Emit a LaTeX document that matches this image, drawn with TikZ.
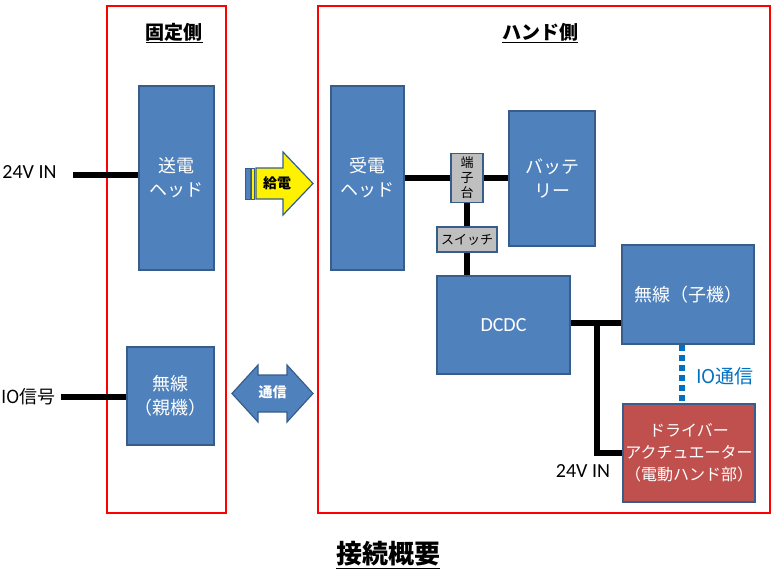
\documentclass[tikz,border=0pt]{standalone}
\usepackage{fontspec}
\setmainfont{Noto Sans CJK JP}
\newfontfamily\latinfont{Carlito}
\usepackage{xcolor}
\definecolor{boxblue}{HTML}{4F81BD}
\definecolor{edgeblue}{HTML}{385D8A}
\definecolor{boxred}{HTML}{C0504D}
\definecolor{partgray}{HTML}{BFBFBF}
\definecolor{linkblue}{HTML}{0070C0}
\usetikzlibrary{positioning,calc}

\begin{document}
\begin{tikzpicture}[
  x=1pt,y=-1pt,
  frame/.style={draw=red,line width=1.5pt},
  blk/.style={draw=edgeblue,line width=2pt,fill=boxblue,text=white,align=center,font=\fontsize{18}{24}\selectfont},
  drvbox/.style={draw=edgeblue,line width=2pt,fill=boxred,text=white,align=center,inner sep=1pt,font=\fontsize{16}{22}\selectfont},
  part/.style={draw=edgeblue,line width=1.5pt,fill=partgray,align=center,inner sep=1pt,font=\fontsize{13}{15}\selectfont},
  wire/.style={line width=6pt,draw=black},
  iolink/.style={line width=6pt,draw=linkblue,dash pattern=on 6pt off 4pt},
  head/.style={font=\bfseries\fontsize{19}{22}\selectfont},
  lbl/.style={font=\latinfont\fontsize{20}{22}\selectfont}
]
\useasboundingbox (0,0) rectangle (772,576);
% frames
\draw[frame] (107,6) rectangle (226,513);
\draw[frame] (318,6) rectangle (770,513);
\node[head] (fixhead) at (174,33) {\underline{固定側}};
\node[head] (handhead) at (540,33) {\underline{ハンド側}};
% fixed side
\node[blk,minimum width=75pt,minimum height=184pt] (sohead) at (176.5,178) {送電\\ヘッド};
\node[blk,minimum width=87pt,minimum height=98pt] (oyaki) at (170.5,396) {無線\\（親機）};
\coordinate (in24) at (73,175);
\coordinate (iosig) at (61,397);
\node[lbl,anchor=east] (in24lbl) at (60,172) {24V IN};
\node[font=\fontsize{18}{20}\selectfont,anchor=east,inner sep=1pt] (iolbl) at (57,397) {IO信号};
% hand side
\node[blk,minimum width=73pt,minimum height=184pt] (juhead) at (367.5,178) {受電\\ヘッド};
\node[part,minimum width=32pt,minimum height=49pt] (tanshi) at (467,178) {端\\子\\台};
\node[blk,minimum width=86pt,minimum height=135pt] (batt) at (552,178) {バッテ\\リー};
\node[part,minimum width=60pt,minimum height=25pt] (sw) at (467,239.5) {スイッチ};
\node[blk,minimum width=133pt,minimum height=98pt,font=\latinfont\fontsize{20}{22}\selectfont] (dcdc) at (503.5,325) {DCDC};
\node[blk,minimum width=132pt,minimum height=99pt] (koki) at (688,294.5) {無線（子機）};
\node[drvbox,minimum width=132pt,minimum height=98pt] (driver) at (689,453) {ドライバー\\アクチュエーター\\（電動ハンド部）};
\coordinate (jn) at (597,323);
\node[lbl,anchor=north] (in24b) at (583,461) {24V IN};
\node[font=\fontsize{19}{22}\selectfont,text=linkblue] (iotxt) at (725,376) {IO通信};
% wires
\draw[wire] (in24) -- (sohead.west |- in24);
\draw[wire] (iosig) -- (oyaki.west |- iosig);
\draw[wire] (juhead) -- (tanshi);
\draw[wire] (tanshi) -- (batt);
\draw[wire] (tanshi.south -| sw.north) -- (sw.north);
\draw[wire] (sw.south) -- (sw.south |- dcdc.north);
\draw[wire] (dcdc.east |- jn) -- (koki.west |- jn);
\draw[wire] (jn) |- (driver.west);
\draw[iolink] (koki.south -| 682,0) -- (driver.north -| 682,0);
% power arrow
\draw[line width=1.2pt,draw=edgeblue,fill=yellow] (256,168) -- (283,168) -- (283,152) -- (313,183.5) -- (283,215) -- (283,199) -- (256,199) -- cycle;
\draw[line width=1pt,draw=edgeblue,fill=boxblue] (245,168) rectangle (250,199);
\draw[line width=1pt,draw=edgeblue,fill=yellow] (251,168) rectangle (254,199);
\node[font=\bfseries\fontsize{14}{16}\selectfont] (kyuden) at (277,183.5) {給電};
% comm arrow
\draw[line width=1.2pt,draw=edgeblue,fill=boxblue] (232,393.5) -- (258,365) -- (258,375) -- (287,375) -- (287,365) -- (313,393.5) -- (287,422) -- (287,412) -- (258,412) -- (258,422) -- cycle;
\node[text=white,font=\bfseries\fontsize{14}{16}\selectfont] (tsushin) at (272.5,392) {通信};
% title
\node[font=\bfseries\fontsize{26}{30}\selectfont] (title) at (388,555) {\underline{接続概要}};
\end{tikzpicture}
\end{document}
